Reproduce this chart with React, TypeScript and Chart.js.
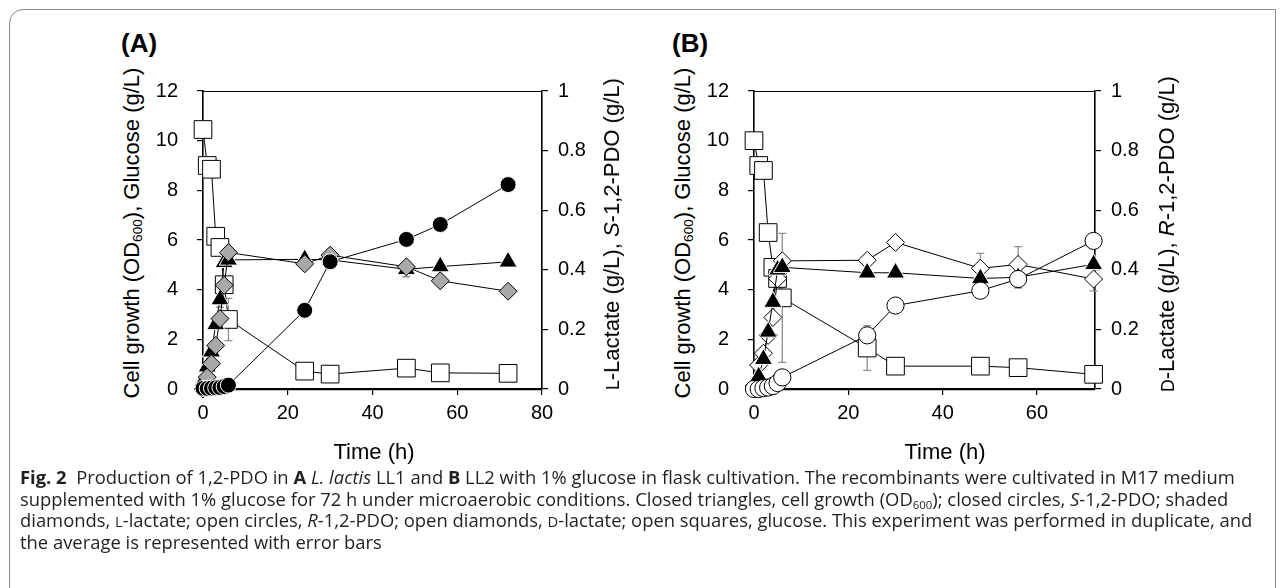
import React, { useEffect, useRef } from "react";
import { Chart, registerables } from "chart.js";

Chart.register(...registerables);

const FONT = '"Liberation Sans", Arial, Helvetica, sans-serif';

// ---------- Panel A : L. lactis LL1 ----------
const timeA = [0, 1, 2, 3, 4, 5, 6, 24, 30, 48, 56, 72];
const glucoseA = [10.45, 9.0, 8.85, 6.15, 5.7, 4.2, 2.8, 0.72, 0.6, 0.84, 0.65, 0.63];
const glucoseErrA = [0, 0, 0, 0, 0, 0.3, 0.85, 0, 0, 0, 0, 0];
const odA = [0.3, 0.9, 1.5, 2.6, 3.6, 5.1, 5.2, 5.22, 5.2, 4.82, 4.93, 5.12];
const odErrA = [0, 0, 0, 0, 0.3, 0, 0, 0, 0, 0.3, 0, 0];
const lLactateA = [0.0, 0.04, 0.085, 0.146, 0.236, 0.348, 0.458, 0.42, 0.449, 0.41, 0.363, 0.328];
const sPdoA = [0.002, 0.002, 0.003, 0.004, 0.005, 0.008, 0.013, 0.264, 0.427, 0.502, 0.552, 0.686];

// ---------- Panel B : LL2 ----------
const timeB = [0, 1, 2, 3, 4, 5, 6, 24, 30, 48, 56, 72];
const glucoseB = [10.0, 9.0, 8.8, 6.3, 4.9, 4.45, 3.67, 1.65, 0.92, 0.92, 0.86, 0.59];
const glucoseErrB = [0, 0, 0, 0, 0, 0, 2.6, 0.9, 0, 0, 0, 0];
const odB = [0.1, 0.5, 1.2, 2.3, 3.5, 4.8, 4.9, 4.68, 4.68, 4.45, 4.5, 5.02];
const dLactateB = [0.01, 0.08, 0.12, 0.18, 0.24, 0.37, 0.43, 0.432, 0.492, 0.405, 0.418, 0.369];
const dLactateErrB = [0, 0, 0, 0, 0, 0, 0, 0, 0, 0.05, 0.06, 0.04];
const rPdoB = [0.0, 0.0, 0.003, 0.005, 0.01, 0.02, 0.039, 0.18, 0.28, 0.33, 0.369, 0.497];
const rPdoErrB = [0, 0, 0, 0, 0, 0, 0, 0, 0, 0, 0.03, 0];

// ---------- Axes ----------
const xTicksA = [0, 20, 40, 60, 80];
const xTicksB = [0, 20, 40, 60];
const xMaxA = 80;
const xMaxB = 72.3;
const yLeftTicks = [0, 2, 4, 6, 8, 10, 12];
const yRightTicks = [0, 0.2, 0.4, 0.6, 0.8, 1];
const yRightTickLabels = ["0", "0.2", "0.4", "0.6", "0.8", "1"];

const errorBarPlugin = {
  id: "errorBars",
  beforeDatasetsDraw(chart: any) {
    const ctx = chart.ctx;
    chart.data.datasets.forEach((ds: any, i: number) => {
      const errs = ds.errors;
      if (!errs) return;
      const meta = chart.getDatasetMeta(i);
      const xs = chart.scales[meta.xAxisID];
      const ys = chart.scales[meta.yAxisID];
      ctx.save();
      ctx.strokeStyle = "#8f8f8f";
      ctx.lineWidth = 1.3;
      ds.data.forEach((p: any, j: number) => {
        const e = errs[j];
        if (!e) return;
        const x = xs.getPixelForValue(p.x);
        const y1 = ys.getPixelForValue(p.y + e);
        const y2 = ys.getPixelForValue(p.y - e);
        ctx.beginPath();
        ctx.moveTo(x, y1);
        ctx.lineTo(x, y2);
        ctx.moveTo(x - 4, y1);
        ctx.lineTo(x + 4, y1);
        ctx.moveTo(x - 4, y2);
        ctx.lineTo(x + 4, y2);
        ctx.stroke();
      });
      ctx.restore();
    });
  },
};

const frameTopPlugin = {
  id: "frameTop",
  afterDraw(chart: any) {
    const { ctx, chartArea } = chart;
    ctx.save();
    ctx.strokeStyle = "#000";
    ctx.lineWidth = 1.2;
    ctx.beginPath();
    ctx.moveTo(chartArea.left, chartArea.top + 0.5);
    ctx.lineTo(chartArea.right, chartArea.top + 0.5);
    ctx.stroke();
    ctx.restore();
  },
};

type Marker = { style: string; radius: number; fill: string; edge: string };
const SQUARE: Marker = { style: "rect", radius: 12.5, fill: "#fff", edge: "#000" };
const TRIANGLE: Marker = { style: "triangle", radius: 10.5, fill: "#000", edge: "#fff" };
const GREY_DIAMOND: Marker = { style: "rectRot", radius: 9, fill: "#a9a9a9", edge: "#000" };
const OPEN_DIAMOND: Marker = { style: "rectRot", radius: 9, fill: "#fff", edge: "#000" };
const BLACK_CIRCLE: Marker = { style: "circle", radius: 8, fill: "#000", edge: "#fff" };
const OPEN_CIRCLE: Marker = { style: "circle", radius: 8.6, fill: "#fff", edge: "#000" };

function series(label: string, xs: number[], ys: number[], yAxisID: string, m: Marker, order: number, errors?: number[]) {
  return {
    label,
    data: xs.map((x, i) => ({ x, y: ys[i] })),
    yAxisID,
    order,
    errors,
    showLine: true,
    borderColor: "#000",
    borderWidth: 1,
    pointStyle: m.style,
    pointRadius: m.radius,
    pointHoverRadius: m.radius,
    pointBackgroundColor: m.fill,
    pointBorderColor: m.edge,
    pointBorderWidth: 1,
    clip: false,
    tension: 0,
  };
}

function makeOptions(xMax: number, xTicks: number[], leftW: number, rightW: number, padTop: number, xH: number) {
  const tickFont = { family: FONT, size: 20 };
  return {
    responsive: false,
    maintainAspectRatio: false,
    animation: false,
    events: [],
    layout: { padding: { top: padTop, left: 0, right: 0, bottom: 0 } },
    plugins: { legend: { display: false }, tooltip: { enabled: false }, title: { display: false } },
    scales: {
      x: {
        type: "linear",
        position: "bottom",
        min: 0,
        max: xMax,
        afterBuildTicks: (s: any) => {
          s.ticks = xTicks.map((v) => ({ value: v }));
        },
        afterFit: (s: any) => {
          s.height = xH;
        },
        ticks: { font: tickFont, color: "#000", padding: 6, maxRotation: 0, autoSkip: false },
        grid: { drawOnChartArea: false, drawTicks: true, tickLength: 6, color: "#000", lineWidth: 1.2 },
        border: { display: true, color: "#000", width: 2.2 },
      },
      y: {
        type: "linear",
        position: "left",
        min: 0,
        max: 12,
        afterBuildTicks: (s: any) => {
          s.ticks = yLeftTicks.map((v) => ({ value: v }));
        },
        afterFit: (s: any) => {
          s.width = leftW;
        },
        ticks: { font: tickFont, color: "#000", padding: 19, autoSkip: false },
        grid: { drawOnChartArea: false, drawTicks: true, tickLength: 6, color: "#000", lineWidth: 1.2 },
        border: { display: true, color: "#000", width: 1.6 },
      },
      y1: {
        type: "linear",
        position: "right",
        min: 0,
        max: 1,
        afterBuildTicks: (s: any) => {
          s.ticks = yRightTicks.map((v) => ({ value: v }));
        },
        afterFit: (s: any) => {
          s.width = rightW;
        },
        ticks: {
          font: tickFont,
          color: "#000",
          padding: 10,
          autoSkip: false,
          callback: (_v: any, i: number) => yRightTickLabels[i],
        },
        grid: { drawOnChartArea: false, drawTicks: true, tickLength: 6, color: "#000", lineWidth: 1.2 },
        border: { display: true, color: "#000", width: 1.6 },
      },
    },
  };
}

function ChartCanvas({ build, left, top, width, height }: any) {
  const ref = useRef<HTMLCanvasElement | null>(null);
  useEffect(() => {
    const chart = new Chart(ref.current as HTMLCanvasElement, build());
    return () => chart.destroy();
  }, []);
  return (
    <canvas
      ref={ref}
      width={width}
      height={height}
      style={{ position: "absolute", left, top, width, height }}
    />
  );
}

const buildA = () => ({
  type: "scatter",
  data: {
    datasets: [
      series("S-1,2-PDO", timeA, sPdoA, "y1", BLACK_CIRCLE, 0),
      series("L-Lactate", timeA, lLactateA, "y1", GREY_DIAMOND, 1),
      series("Cell growth (OD600)", timeA, odA, "y", TRIANGLE, 2, odErrA),
      series("Glucose", timeA, glucoseA, "y", SQUARE, 3, glucoseErrA),
    ],
  },
  options: makeOptions(xMaxA, xTicksA, 53, 88, 27, 61),
  plugins: [errorBarPlugin, frameTopPlugin],
});

const buildB = () => ({
  type: "scatter",
  data: {
    datasets: [
      series("R-1,2-PDO", timeB, rPdoB, "y1", OPEN_CIRCLE, 0, rPdoErrB),
      series("Cell growth (OD600)", timeB, odB, "y", TRIANGLE, 1),
      series("D-Lactate", timeB, dLactateB, "y1", OPEN_DIAMOND, 2, dLactateErrB),
      series("Glucose", timeB, glucoseB, "y", SQUARE, 3, glucoseErrB),
    ],
  },
  options: makeOptions(xMaxB, xTicksB, 54, 88, 27, 61),
  plugins: [errorBarPlugin, frameTopPlugin],
});

const axisText: React.CSSProperties = {
  position: "absolute",
  fontFamily: FONT,
  fontSize: 22,
  color: "#000",
  whiteSpace: "nowrap",
  transform: "translate(-50%, -50%) rotate(-90deg)",
  lineHeight: 1,
};

const sub: React.CSSProperties = { fontSize: "0.62em", verticalAlign: "-0.25em", lineHeight: 0 };
const sc: React.CSSProperties = { fontSize: "0.8em" };

function LeftTitle({ cx, cy }: { cx: number; cy: number }) {
  return (
    <div style={{ ...axisText, left: cx, top: cy }}>
      Cell growth (OD<span style={sub}>600</span>), Glucose (g/L)
    </div>
  );
}

const capLine: React.CSSProperties = {
  position: "absolute",
  left: 20,
  whiteSpace: "nowrap",
  fontFamily: '"Open Sans", "Noto Sans", sans-serif',
  fontSize: 18.4,
  color: "#231f20",
  lineHeight: "22px",
};

const timeLabel: React.CSSProperties = {
  position: "absolute",
  top: 452,
  transform: "translate(-50%, -50%)",
  fontFamily: FONT,
  fontSize: 22,
  whiteSpace: "nowrap",
};

const panelLabel: React.CSSProperties = {
  position: "absolute",
  top: 28,
  fontFamily: FONT,
  fontWeight: "bold",
  fontSize: 26,
};

export default function App() {
  return (
    <div
      style={{
        position: "fixed",
        left: 0,
        top: 0,
        width: 1285,
        height: 588,
        background: "#fff",
        overflow: "hidden",
      }}
    >
      <div
        style={{
          position: "absolute",
          left: 9,
          top: 9,
          width: 1267,
          height: 620,
          border: "1.5px solid #8a8a8a",
          borderTopLeftRadius: 14,
          boxSizing: "border-box",
        }}
      />

      <div style={{ ...panelLabel, left: 121 }}>(A)</div>
      <div style={{ ...panelLabel, left: 672 }}>(B)</div>

      <ChartCanvas build={buildA} left={150} top={60} width={480} height={390} />
      <ChartCanvas build={buildB} left={700} top={60} width={483} height={390} />

      <LeftTitle cx={132} cy={233} />
      <LeftTitle cx={683} cy={233} />
      <div style={{ ...axisText, left: 612, top: 234 }}>
        <span style={sc}>L</span>-Lactate (g/L), <i>S</i>-1,2-PDO (g/L)
      </div>
      <div style={{ ...axisText, left: 1167, top: 234 }}>
        <span style={sc}>D</span>-Lactate (g/L), <i>R</i>-1,2-PDO (g/L)
      </div>

      <div style={{ ...timeLabel, left: 374 }}>Time (h)</div>
      <div style={{ ...timeLabel, left: 945 }}>Time (h)</div>

      <div style={{ ...capLine, top: 466 }}>
        <b>Fig. 2</b>&nbsp; Production of 1,2-PDO in <b>A</b> <i>L. lactis</i> LL1 and <b>B</b> LL2 with 1% glucose in flask cultivation. The recombinants were cultivated in M17 medium
      </div>
      <div style={{ ...capLine, top: 487.5 }}>
        supplemented with 1% glucose for 72 h under microaerobic conditions. Closed triangles, cell growth (OD<span style={sub}>600</span>); closed circles, <i>S</i>-1,2-PDO; shaded
      </div>
      <div style={{ ...capLine, top: 509 }}>
        diamonds, <span style={sc}>L</span>-lactate; open circles, <i>R</i>-1,2-PDO; open diamonds, <span style={sc}>D</span>-lactate; open squares, glucose. This experiment was performed in duplicate, and
      </div>
      <div style={{ ...capLine, top: 530.5 }}>the average is represented with error bars</div>
    </div>
  );
}
